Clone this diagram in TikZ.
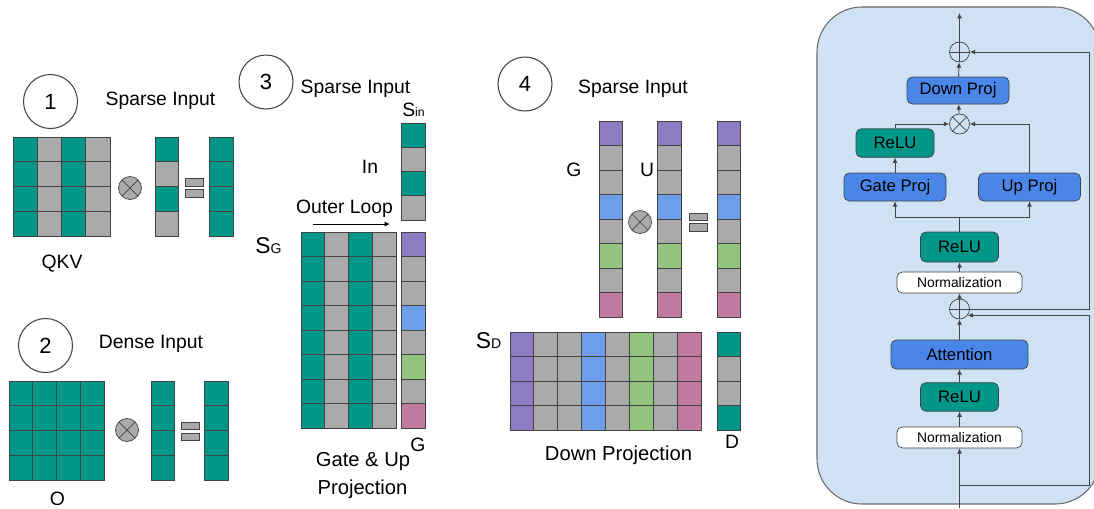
\documentclass[tikz,border=0pt]{standalone}
\usepackage{fontspec}
\setmainfont{Liberation Sans}
\usetikzlibrary{positioning, arrows.meta}

\definecolor{tealc}{HTML}{009688}
\definecolor{cellgray}{HTML}{AAAAAA}
\definecolor{purp}{HTML}{8E7CC3}
\definecolor{bluec}{HTML}{6D9EEB}
\definecolor{greenc}{HTML}{93C47D}
\definecolor{pinkc}{HTML}{C27BA0}
\definecolor{projblue}{HTML}{4A86E8}
\definecolor{panelbg}{HTML}{CFE2F3}
\definecolor{edge}{HTML}{434343}

% x0, y0, cell width, cell height, rows, one colour per column
\newcommand{\cellcols}[6]{%
  \foreach \c [count=\i from 0] in {#6}
    \foreach \j in {1,...,#5}
      \draw[cell, fill=\c] ({#1+\i*#3},{#2+(\j-1)*#4}) rectangle ++(#3,#4);}
% x0, y0, cell width, cell height, one colour per row
\newcommand{\cellvec}[5]{%
  \foreach \c [count=\j from 0] in {#5}
    \draw[cell, fill=\c] (#1,{#2+\j*#4}) rectangle ++(#3,#4);}

\begin{document}
\begin{tikzpicture}[x=0.02cm, y=-0.02cm, >={Latex[length=3pt,width=2.8pt]},
  font=\fontsize{11}{13}\selectfont]
	\tikzstyle{cell}=[draw=edge, line width=0.5pt]
	\tikzstyle{num}=[circle, draw=edge, line width=0.6pt, minimum size=1.08cm, inner sep=0pt, font=\fontsize{12.5}{14}\selectfont]
	\tikzstyle{lbl}=[anchor=base, inner sep=0pt]
	\tikzstyle{mul}=[circle, draw=edge, fill=cellgray, minimum size=0.46cm, inner sep=0pt,
	  path picture={\draw[edge] (path picture bounding box.south east) -- (path picture bounding box.north west)
	    (path picture bounding box.south west) -- (path picture bounding box.north east);}]
	\tikzstyle{blk}=[draw=edge, rounded corners=3pt, inner sep=0pt, font=\fontsize{9.5}{11}\selectfont]
	\tikzstyle{proj}=[blk, fill=projblue, minimum width=2.04cm, minimum height=0.56cm]
	\tikzstyle{relu}=[blk, fill=tealc, minimum width=1.56cm, minimum height=0.57cm]
	\tikzstyle{norm}=[blk, fill=white, minimum width=2.5cm, minimum height=0.42cm, font=\fontsize{7.9}{9}\selectfont]
	\tikzstyle{add}=[circle, draw=edge, minimum size=0.4cm, inner sep=0pt,
	  path picture={\draw[edge] (path picture bounding box.north) -- (path picture bounding box.south)
	    (path picture bounding box.west) -- (path picture bounding box.east);}]
	\tikzstyle{times}=[circle, draw=edge, minimum size=0.4cm, inner sep=0pt,
	  path picture={\draw[edge] (path picture bounding box.south east) -- (path picture bounding box.north west)
	    (path picture bounding box.south west) -- (path picture bounding box.north east);}]
	\tikzstyle{wire}=[draw=edge, line width=0.5pt]
	\useasboundingbox (0,0) rectangle (1094,508);

	% (1) QKV with sparse input
	\node[num] (n1) at (50.5,101.5) {1};
	\node[lbl] (sparse1) at (160.5,105) {Sparse Input};
	\cellcols{13}{137}{24.25}{24.75}{4}{tealc,cellgray,tealc,cellgray}
	\node[mul] (m1) at (130,188) {};
	\cellvec{155}{137}{23}{24.75}{tealc,cellgray,tealc,cellgray}
	\draw[cell, fill=cellgray] (185,178) rectangle (203,186) (185,189) rectangle (203,197);
	\cellvec{209}{137}{24}{24.75}{tealc,tealc,tealc,tealc}
	\node[lbl] (qkv) at (62,268) {QKV};

	% (2) O with dense input
	\node[num] (n2) at (45.5,345.5) {2};
	\node[lbl] (dense2) at (151,348) {Dense Input};
	\cellcols{9}{381}{23.75}{24.75}{4}{tealc,tealc,tealc,tealc}
	\node[mul] (m2) at (127,430) {};
	\cellvec{151}{381}{23}{24.75}{tealc,tealc,tealc,tealc}
	\draw[cell, fill=cellgray] (181,422) rectangle (199,429) (181,433) rectangle (199,440);
	\cellvec{204}{381}{24}{24.75}{tealc,tealc,tealc,tealc}
	\node[lbl] (oLabel) at (57.5,505.5) {O};

	% (3) gate & up projection
	\node[num] (n3) at (266,82) {3};
	\node[lbl] (sparse3) at (355.5,93) {Sparse Input};
	\node[lbl] (sIn) at (413.5,116) {\fontsize{11}{13}\selectfont S\fontsize{7}{8}\selectfont in};
	\cellvec{401}{123}{24}{24.25}{tealc,cellgray,tealc,cellgray}
	\node[lbl] (inLabel) at (370,173) {In};
	\node[lbl] (loop) at (344.5,213) {Outer Loop};
	\coordinate (loopA) at (313,224);
	\coordinate (loopB) at (390,224);
	\draw[->, line width=0.5pt] (loopA) -- (loopB);
	\node[lbl] (sG) at (268.5,253) {\fontsize{13}{15}\selectfont S\fontsize{8}{9}\selectfont G};
	\cellcols{301}{232}{23.75}{24.5}{8}{tealc,cellgray,tealc,cellgray}
	\cellvec{401}{232}{24}{24.5}{purp,cellgray,cellgray,bluec,cellgray,greenc,cellgray,pinkc}
	\node[lbl] (gOut) at (418,451) {G};
	\node[lbl, font=\fontsize{11.5}{13}\selectfont] (gateUp) at (363,466) {Gate \& Up};
	\node[lbl, font=\fontsize{11.5}{13}\selectfont] (gateUp2) at (362.5,494) {Projection};

	% (4) down projection
	\node[num] (n4) at (525,84) {4};
	\node[lbl] (sparse4) at (633,93) {Sparse Input};
	\node[lbl] (gIn) at (574,176) {G};
	\node[lbl] (uIn) at (647,176) {U};
	\cellvec{599}{121}{23}{24.5}{purp,cellgray,cellgray,bluec,cellgray,greenc,cellgray,pinkc}
	\node[mul] (m4) at (640,222) {};
	\cellvec{657}{121}{24}{24.5}{purp,cellgray,cellgray,bluec,cellgray,greenc,cellgray,pinkc}
	\draw[cell, fill=cellgray] (689,213) rectangle (707,220) (689,223) rectangle (707,231);
	\cellvec{717}{121}{23}{24.5}{purp,cellgray,cellgray,bluec,cellgray,greenc,cellgray,pinkc}
	\node[lbl] (sD) at (488.5,348) {\fontsize{13}{15}\selectfont S\fontsize{8}{9}\selectfont D};
	\cellcols{510}{332}{23.875}{24.5}{4}{purp,cellgray,cellgray,bluec,cellgray,greenc,cellgray,pinkc}
	\cellvec{717}{332}{23}{24.5}{tealc,cellgray,cellgray,tealc}
	\node[lbl] (dOut) at (732,448) {D};
	\node[lbl, font=\fontsize{11.5}{13}\selectfont] (downLabel) at (618.5,460) {Down Projection};

	% transformer block
	\draw[draw=edge!80, fill=panelbg, line width=0.6pt, rounded corners=0.9cm] (817,7) rectangle (1100,504);
	\node[add] (addT) at (959.5,52) {};
	\node[proj, minimum height=0.54cm] (down) at (958,90.5) {Down Proj};
	\node[times] (mulB) at (959.5,124) {};
	\node[proj] (gate) at (895,187) {Gate Proj};
	\node[relu, above=0.3cm of gate] (reluU) {ReLU};
	\node[proj] (up) at (1029.5,187) {Up Proj};
	\node[relu, minimum height=0.6cm] (reluM) at (959.5,247) {ReLU};
	\node[norm] (normT) at (959.5,282.5) {Normalization};
	\node[add] (addB) at (959.5,309) {};
	\node[proj, minimum width=2.74cm, minimum height=0.58cm] (attn) at (959.5,354.5) {Attention};
	\node[relu, below=0.26cm of attn] (reluB) {ReLU};
	\node[norm, below=0.3cm of reluB] (normB) {Normalization};
	\coordinate (inp) at (959.5,508);
	\coordinate (out) at (959.5,13);
	\coordinate (fork) at (959.5,217);
	\coordinate (split) at (959.5,485);
	\coordinate (skip) at (1089.5,0);

	\draw[wire, ->] (inp) -- (normB);
	\draw[wire, ->] (normB) -- (reluB);
	\draw[wire, ->] (reluB) -- (attn);
	\draw[wire, ->] (attn) -- (addB);
	\draw[wire, ->] (addB) -- (normT);
	\draw[wire, ->] (normT) -- (reluM);
	\draw[wire] (reluM) -- (fork);
	\draw[wire, ->] (fork) -| (gate);
	\draw[wire, ->] (fork) -| (up);
	\draw[wire, ->] (gate) -- (reluU);
	\draw[wire, ->] (reluU) |- (mulB);
	\draw[wire, ->] (up) |- (mulB);
	\draw[wire, ->] (mulB) -- (down);
	\draw[wire, ->] (down) -- (addT);
	\draw[wire, ->] (addT) -- (out);
	\draw[wire, ->] (split) -- (split -| skip) |- (addB.-38);
	\draw[wire, ->] (addB) -- (addB -| skip) |- (addT);
\end{tikzpicture}
\end{document}
